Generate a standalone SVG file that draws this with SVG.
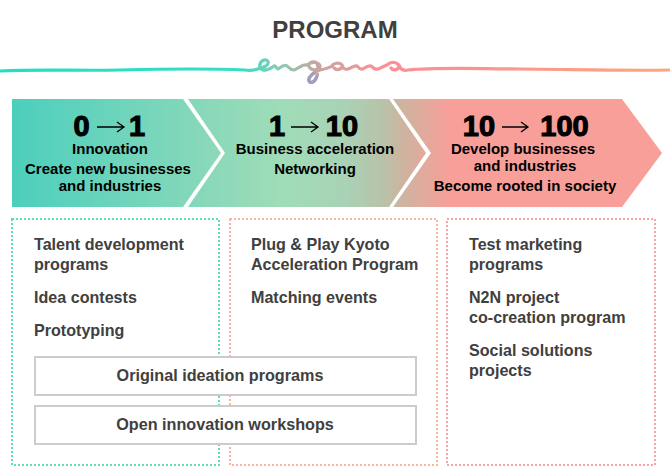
<svg xmlns="http://www.w3.org/2000/svg" width="670" height="473" viewBox="0 0 670 473">
<style>
text{font-family:"Liberation Sans",Arial,sans-serif;font-weight:700}
.t{font-size:15px;fill:#000;text-anchor:middle}
.n{font-size:29px;fill:#000;text-anchor:middle;stroke:#000;stroke-width:1.1}
.a{font-size:16.1px;fill:#404040}
.d{fill:none;stroke-width:2;stroke-dasharray:2 2}
.b{fill:#fff;stroke:#cccccc;stroke-width:2}
.c{font-size:16.2px;fill:#404040;text-anchor:middle}
.ar{fill:none;stroke:#000;stroke-width:1.3}
</style>
<defs>
<linearGradient id="g" gradientUnits="userSpaceOnUse" x1="12" y1="0" x2="450" y2="0">
<stop offset="0" stop-color="#4ccfbd"/><stop offset=".62" stop-color="#a0dcb8"/><stop offset=".76" stop-color="#a9d2b6"/><stop offset=".85" stop-color="#b9c2a8"/><stop offset=".89" stop-color="#cdb4a0"/><stop offset="1" stop-color="#f89f99"/>
</linearGradient>
<linearGradient id="w" gradientUnits="userSpaceOnUse" x1="0" y1="0" x2="670" y2="0">
<stop offset="0" stop-color="#1fe0c6"/><stop offset=".36" stop-color="#38dcc4"/><stop offset=".42" stop-color="#8ccab6"/><stop offset=".47" stop-color="#c4a8a0"/><stop offset=".56" stop-color="#fb9095"/><stop offset=".64" stop-color="#fb9094"/><stop offset="1" stop-color="#fda57f"/>
</linearGradient>
</defs>
<g id="title"><text x="335" y="38" text-anchor="middle" font-size="24" fill="#404040">PROGRAM</text></g>
<g id="logo">
<path fill="none" stroke="url(#w)" stroke-width="3.2" stroke-linecap="round" stroke-linejoin="round" d="M0 71C40 69 80 71 120 70S200 68 245 70C252 71 258 70 266 66C270 63 268 59 264 60C259 62 258 68 263 70C268 71 271 68 274 66C276 65 276 69 278 69C281 67 284 64 287 66C290 68 290 70 294 70C299 68 302 64 307 65C312 61 319 62 320 66C320 70 313 71 310 68C307 65 310 61 315 62C319 63 318 72 317 76C315 82 311 84 309 81C308 77 314 72 320 70C325 69 329 68 332 66C333 63 340 62 342 65C343 69 337 71 334 68M342 65C343 68 344 70 348 69C352 68 354 65 357 66C359 68 360 70 363 69C366 67 368 65 371 66C373 68 375 70 378 69C381 68 384 66 387 65C391 61 398 62 399 66C399 70 393 71 391 68M399 65C400 69 403 71 408 70C440 67 480 69 520 69S620 71 670 70"/>
<path fill="none" stroke="#a09fc0" stroke-width="3.2" stroke-linecap="round" d="M317 76C315 82 311 84 309 81C308 78 311 75 314 73"/>
</g>
<g id="arrows">
<path id="arrow1" fill="url(#g)" d="M12 99H183L221 153L183 207H12Z"/>
<path fill="url(#g)" d="M188 99H389L426 153L389 207H188L225 153Z"/>
<path fill="url(#g)" d="M393 99H622L662 153L622 207H393L431 153Z"/>
</g>
<g id="stage1">
<text class="n" x="81.5" y="136">0</text><path class="ar" d="M97 127H123M117 122L124 127L117 132"/><text class="n" x="137" y="136">1</text>
<text class="t" x="110" y="154">Innovation</text>
<text class="t" x="108" y="174">Create new businesses</text>
<text class="t" x="110" y="191">and industries</text>
</g>
<g id="stage2">
<text class="n" x="277" y="136">1</text><path class="ar" d="M291 127H317M311 122L318 127L311 132"/><text class="n" x="342" y="136">10</text>
<text class="t" x="315" y="154">Business acceleration</text>
<text class="t" x="315" y="174">Networking</text>
</g>
<g id="stage3">
<text class="n" x="479" y="136">10</text><path class="ar" d="M502 127H527M521 122L528 127L521 132"/><text class="n" x="564.5" y="136">100</text>
<text class="t" x="523" y="154">Develop businesses</text>
<text class="t" x="525" y="171">and industries</text>
<text class="t" x="525" y="191">Become rooted in society</text>
</g>
<g id="col1">
<rect class="d" x="12" y="219" width="207" height="246" stroke="#5edcbc"/>
<text class="a" x="34" y="250">Talent development</text><text class="a" x="34" y="270">programs</text>
<text class="a" x="34" y="303">Idea contests</text>
<text class="a" x="34" y="336">Prototyping</text>
</g>
<g id="col2">
<rect class="d" x="230" y="219" width="207" height="246" stroke="#fbb59c"/>
<text class="a" x="251" y="250">Plug &amp; Play Kyoto</text><text class="a" x="251" y="270">Acceleration Program</text>
<text class="a" x="251" y="303">Matching events</text>
</g>
<g id="col3">
<rect class="d" x="447" y="219" width="208" height="246" stroke="#f9a3a5"/>
<text class="a" x="469" y="250">Test marketing</text><text class="a" x="469" y="270">programs</text>
<text class="a" x="469" y="303">N2N project</text><text class="a" x="469" y="323">co-creation program</text>
<text class="a" x="469" y="356">Social solutions</text><text class="a" x="469" y="376">projects</text>
</g>
<g id="bar1"><rect class="b" x="35" y="357" width="381" height="38"/><text class="c" x="220" y="381">Original ideation programs</text></g>
<g id="bar2"><rect class="b" x="35" y="406" width="381" height="38"/><text class="c" x="225" y="430">Open innovation workshops</text></g>
</svg>
